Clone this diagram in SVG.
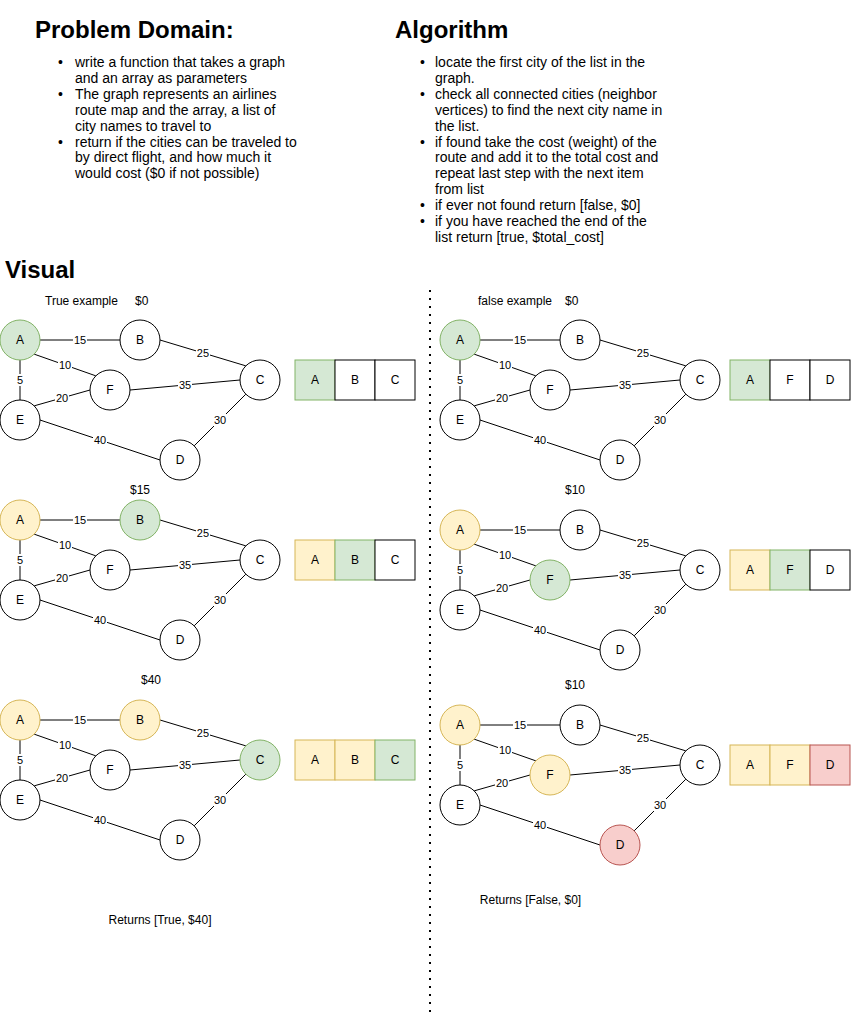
<svg xmlns="http://www.w3.org/2000/svg" xmlns:xlink="http://www.w3.org/1999/xlink" width="851" height="1014" viewBox="0 0 851 1014">
<style>
text{font-family:"Liberation Sans",Arial,Helvetica,sans-serif;fill:#000}
.h{font-size:24px;font-weight:bold}
.b{font-size:14px}
.cap{font-size:12px}
.nl{font-size:12px;text-anchor:middle}
.el{font-size:11px;text-anchor:middle}
.lbg{fill:#fff;stroke:none}
.e{stroke:#000;stroke-width:1;fill:none}
.n{fill:#fff;stroke:#000;stroke-width:1}
.gr{fill:#d5e8d4;stroke:#82b366;stroke-width:1}
.ye{fill:#fff2cc;stroke:#d6b656;stroke-width:1}
.rd{fill:#f8cecc;stroke:#b85450;stroke-width:1}
.div{stroke:#000;stroke-width:2;stroke-dasharray:2 6;fill:none}
</style>
<defs>
<g id="edges">
<line class="e" x1="40" y1="340" x2="120" y2="340"/>
<line class="e" x1="160" y1="340" x2="245.86" y2="365.86"/>
<line class="e" x1="34.14" y1="354.14" x2="95.86" y2="375.86"/>
<line class="e" x1="20" y1="360" x2="20" y2="400"/>
<line class="e" x1="34.14" y1="405.86" x2="90" y2="390"/>
<line class="e" x1="130" y1="390" x2="240" y2="380"/>
<line class="e" x1="40" y1="420" x2="160" y2="460"/>
<line class="e" x1="245.86" y1="394.14" x2="194.14" y2="445.86"/>
<rect class="lbg" x="73" y="334" width="14" height="12"/><text class="el" x="80" y="344">15</text>
<rect class="lbg" x="196" y="347" width="14" height="12"/><text class="el" x="202.9" y="356.9">25</text>
<rect class="lbg" x="58" y="359" width="14" height="12"/><text class="el" x="65" y="369">10</text>
<rect class="lbg" x="16" y="374" width="8" height="12"/><text class="el" x="20" y="384">5</text>
<rect class="lbg" x="55" y="392" width="14" height="12"/><text class="el" x="62" y="401.9">20</text>
<rect class="lbg" x="178" y="379" width="14" height="12"/><text class="el" x="185" y="389">35</text>
<rect class="lbg" x="93" y="434" width="14" height="12"/><text class="el" x="100" y="444">40</text>
<rect class="lbg" x="213" y="414" width="14" height="12"/><text class="el" x="220" y="424">30</text>
</g>
</defs>

<!-- Headings and lists -->
<g id="problem-domain">
<text class="h" x="35" y="38">Problem Domain:</text>
<text class="b">
<tspan x="58" y="67">•</tspan><tspan x="75" y="67">write a function that takes a graph</tspan>
<tspan x="75" y="82.9">and an array as parameters</tspan>
<tspan x="58" y="98.8">•</tspan><tspan x="75" y="98.8">The graph represents an airlines</tspan>
<tspan x="75" y="114.7">route map and the array, a list of</tspan>
<tspan x="75" y="130.6">city names to travel to</tspan>
<tspan x="58" y="146.5">•</tspan><tspan x="75" y="146.5">return if the cities can be traveled to</tspan>
<tspan x="75" y="162.4">by direct flight, and how much it</tspan>
<tspan x="75" y="178.3">would cost ($0 if not possible)</tspan>
</text>
</g>
<g id="algorithm">
<text class="h" x="395" y="38">Algorithm</text>
<text class="b">
<tspan x="420" y="67">•</tspan><tspan x="435" y="67">locate the first city of the list in the</tspan>
<tspan x="435" y="82.9">graph.</tspan>
<tspan x="420" y="98.8">•</tspan><tspan x="435" y="98.8">check all connected cities (neighbor</tspan>
<tspan x="435" y="114.7">vertices) to find the next city name in</tspan>
<tspan x="435" y="130.6">the list.</tspan>
<tspan x="420" y="146.5">•</tspan><tspan x="435" y="146.5">if found take the cost (weight) of the</tspan>
<tspan x="435" y="162.4">route and add it to the total cost and</tspan>
<tspan x="435" y="178.3">repeat last step with the next item</tspan>
<tspan x="435" y="194.2">from list</tspan>
<tspan x="420" y="210.1">•</tspan><tspan x="435" y="210.1">if ever not found return [false, $0]</tspan>
<tspan x="420" y="226">•</tspan><tspan x="435" y="226">if you have reached the end of the</tspan>
<tspan x="435" y="241.9">list return [true, $total_cost]</tspan>
</text>
</g>
<text id="visual-title" class="h" x="5" y="278">Visual</text>

<!-- divider -->
<line id="divider" class="div" x1="430" y1="290" x2="430" y2="1012"/>

<!-- captions -->
<g id="captions">
<text class="cap" x="45" y="305">True example</text>
<text class="cap" x="135" y="305">$0</text>
<text class="cap" x="478" y="305">false example</text>
<text class="cap" x="565" y="305">$0</text>
<text class="cap" x="140" y="494" text-anchor="middle">$15</text>
<text class="cap" x="575" y="494" text-anchor="middle">$10</text>
<text class="cap" x="151" y="684" text-anchor="middle">$40</text>
<text class="cap" x="575" y="689" text-anchor="middle">$10</text>
<text class="cap" x="160" y="924" text-anchor="middle">Returns [True, $40]</text>
<text class="cap" x="530.5" y="904" text-anchor="middle">Returns [False, $0]</text>
</g>

<!-- Graph 1 -->
<g id="graph1">
<g id="graph1-connectors"><use xlink:href="#edges" href="#edges"/></g>
<g id="g1-A"><circle class="gr" cx="20" cy="340" r="20"/><text class="nl" x="20" y="344">A</text></g>
<g id="g1-B"><circle class="n" cx="140" cy="340" r="20"/><text class="nl" x="140" y="344">B</text></g>
<g id="g1-C"><circle class="n" cx="260" cy="380" r="20"/><text class="nl" x="260" y="384">C</text></g>
<g id="g1-F"><circle class="n" cx="110" cy="390" r="20"/><text class="nl" x="110" y="394">F</text></g>
<g id="g1-E"><circle class="n" cx="20" cy="420" r="20"/><text class="nl" x="20" y="424">E</text></g>
<g id="g1-D"><circle class="n" cx="180" cy="460" r="20"/><text class="nl" x="180" y="464">D</text></g>
</g>

<!-- Graph 2 -->
<g id="graph2" transform="translate(0,180)">
<g id="graph2-connectors"><use xlink:href="#edges" href="#edges"/></g>
<g id="g2-A"><circle class="ye" cx="20" cy="340" r="20"/><text class="nl" x="20" y="344">A</text></g>
<g id="g2-B"><circle class="gr" cx="140" cy="340" r="20"/><text class="nl" x="140" y="344">B</text></g>
<g id="g2-C"><circle class="n" cx="260" cy="380" r="20"/><text class="nl" x="260" y="384">C</text></g>
<g id="g2-F"><circle class="n" cx="110" cy="390" r="20"/><text class="nl" x="110" y="394">F</text></g>
<g id="g2-E"><circle class="n" cx="20" cy="420" r="20"/><text class="nl" x="20" y="424">E</text></g>
<g id="g2-D"><circle class="n" cx="180" cy="460" r="20"/><text class="nl" x="180" y="464">D</text></g>
</g>

<!-- Graph 3 -->
<g id="graph3" transform="translate(0,380)">
<g id="graph3-connectors"><use xlink:href="#edges" href="#edges"/></g>
<g id="g3-A"><circle class="ye" cx="20" cy="340" r="20"/><text class="nl" x="20" y="344">A</text></g>
<g id="g3-B"><circle class="ye" cx="140" cy="340" r="20"/><text class="nl" x="140" y="344">B</text></g>
<g id="g3-C"><circle class="gr" cx="260" cy="380" r="20"/><text class="nl" x="260" y="384">C</text></g>
<g id="g3-F"><circle class="n" cx="110" cy="390" r="20"/><text class="nl" x="110" y="394">F</text></g>
<g id="g3-E"><circle class="n" cx="20" cy="420" r="20"/><text class="nl" x="20" y="424">E</text></g>
<g id="g3-D"><circle class="n" cx="180" cy="460" r="20"/><text class="nl" x="180" y="464">D</text></g>
</g>

<!-- Graph 4 -->
<g id="graph4" transform="translate(440,0)">
<g id="graph4-connectors"><use xlink:href="#edges" href="#edges"/></g>
<g id="g4-A"><circle class="gr" cx="20" cy="340" r="20"/><text class="nl" x="20" y="344">A</text></g>
<g id="g4-B"><circle class="n" cx="140" cy="340" r="20"/><text class="nl" x="140" y="344">B</text></g>
<g id="g4-C"><circle class="n" cx="260" cy="380" r="20"/><text class="nl" x="260" y="384">C</text></g>
<g id="g4-F"><circle class="n" cx="110" cy="390" r="20"/><text class="nl" x="110" y="394">F</text></g>
<g id="g4-E"><circle class="n" cx="20" cy="420" r="20"/><text class="nl" x="20" y="424">E</text></g>
<g id="g4-D"><circle class="n" cx="180" cy="460" r="20"/><text class="nl" x="180" y="464">D</text></g>
</g>

<!-- Graph 5 -->
<g id="graph5" transform="translate(440,190)">
<g id="graph5-connectors"><use xlink:href="#edges" href="#edges"/></g>
<g id="g5-A"><circle class="ye" cx="20" cy="340" r="20"/><text class="nl" x="20" y="344">A</text></g>
<g id="g5-B"><circle class="n" cx="140" cy="340" r="20"/><text class="nl" x="140" y="344">B</text></g>
<g id="g5-C"><circle class="n" cx="260" cy="380" r="20"/><text class="nl" x="260" y="384">C</text></g>
<g id="g5-F"><circle class="gr" cx="110" cy="390" r="20"/><text class="nl" x="110" y="394">F</text></g>
<g id="g5-E"><circle class="n" cx="20" cy="420" r="20"/><text class="nl" x="20" y="424">E</text></g>
<g id="g5-D"><circle class="n" cx="180" cy="460" r="20"/><text class="nl" x="180" y="464">D</text></g>
</g>

<!-- Graph 6 -->
<g id="graph6" transform="translate(440,385)">
<g id="graph6-connectors"><use xlink:href="#edges" href="#edges"/></g>
<g id="g6-A"><circle class="ye" cx="20" cy="340" r="20"/><text class="nl" x="20" y="344">A</text></g>
<g id="g6-B"><circle class="n" cx="140" cy="340" r="20"/><text class="nl" x="140" y="344">B</text></g>
<g id="g6-C"><circle class="n" cx="260" cy="380" r="20"/><text class="nl" x="260" y="384">C</text></g>
<g id="g6-F"><circle class="ye" cx="110" cy="390" r="20"/><text class="nl" x="110" y="394">F</text></g>
<g id="g6-E"><circle class="n" cx="20" cy="420" r="20"/><text class="nl" x="20" y="424">E</text></g>
<g id="g6-D"><circle class="rd" cx="180" cy="460" r="20"/><text class="nl" x="180" y="464">D</text></g>
</g>

<!-- Arrays -->
<g id="array1">
<rect class="gr" x="295" y="360" width="40" height="40"/><rect class="n" x="335" y="360" width="40" height="40"/><rect class="n" x="375" y="360" width="40" height="40"/>
<text class="nl" x="315" y="384">A</text><text class="nl" x="355" y="384">B</text><text class="nl" x="395" y="384">C</text>
</g>
<g id="array2">
<rect class="ye" x="295" y="540" width="40" height="40"/><rect class="gr" x="335" y="540" width="40" height="40"/><rect class="n" x="375" y="540" width="40" height="40"/>
<text class="nl" x="315" y="564">A</text><text class="nl" x="355" y="564">B</text><text class="nl" x="395" y="564">C</text>
</g>
<g id="array3">
<rect class="ye" x="295" y="740" width="40" height="40"/><rect class="ye" x="335" y="740" width="40" height="40"/><rect class="gr" x="375" y="740" width="40" height="40"/>
<text class="nl" x="315" y="764">A</text><text class="nl" x="355" y="764">B</text><text class="nl" x="395" y="764">C</text>
</g>
<g id="array4">
<rect class="gr" x="730" y="360" width="40" height="40"/><rect class="n" x="770" y="360" width="40" height="40"/><rect class="n" x="810" y="360" width="40" height="40"/>
<text class="nl" x="750" y="384">A</text><text class="nl" x="790" y="384">F</text><text class="nl" x="830" y="384">D</text>
</g>
<g id="array5">
<rect class="ye" x="730" y="550" width="40" height="40"/><rect class="gr" x="770" y="550" width="40" height="40"/><rect class="n" x="810" y="550" width="40" height="40"/>
<text class="nl" x="750" y="574">A</text><text class="nl" x="790" y="574">F</text><text class="nl" x="830" y="574">D</text>
</g>
<g id="array6">
<rect class="ye" x="730" y="745" width="40" height="40"/><rect class="ye" x="770" y="745" width="40" height="40"/><rect class="rd" x="810" y="745" width="40" height="40"/>
<text class="nl" x="750" y="769">A</text><text class="nl" x="790" y="769">F</text><text class="nl" x="830" y="769">D</text>
</g>
</svg>
